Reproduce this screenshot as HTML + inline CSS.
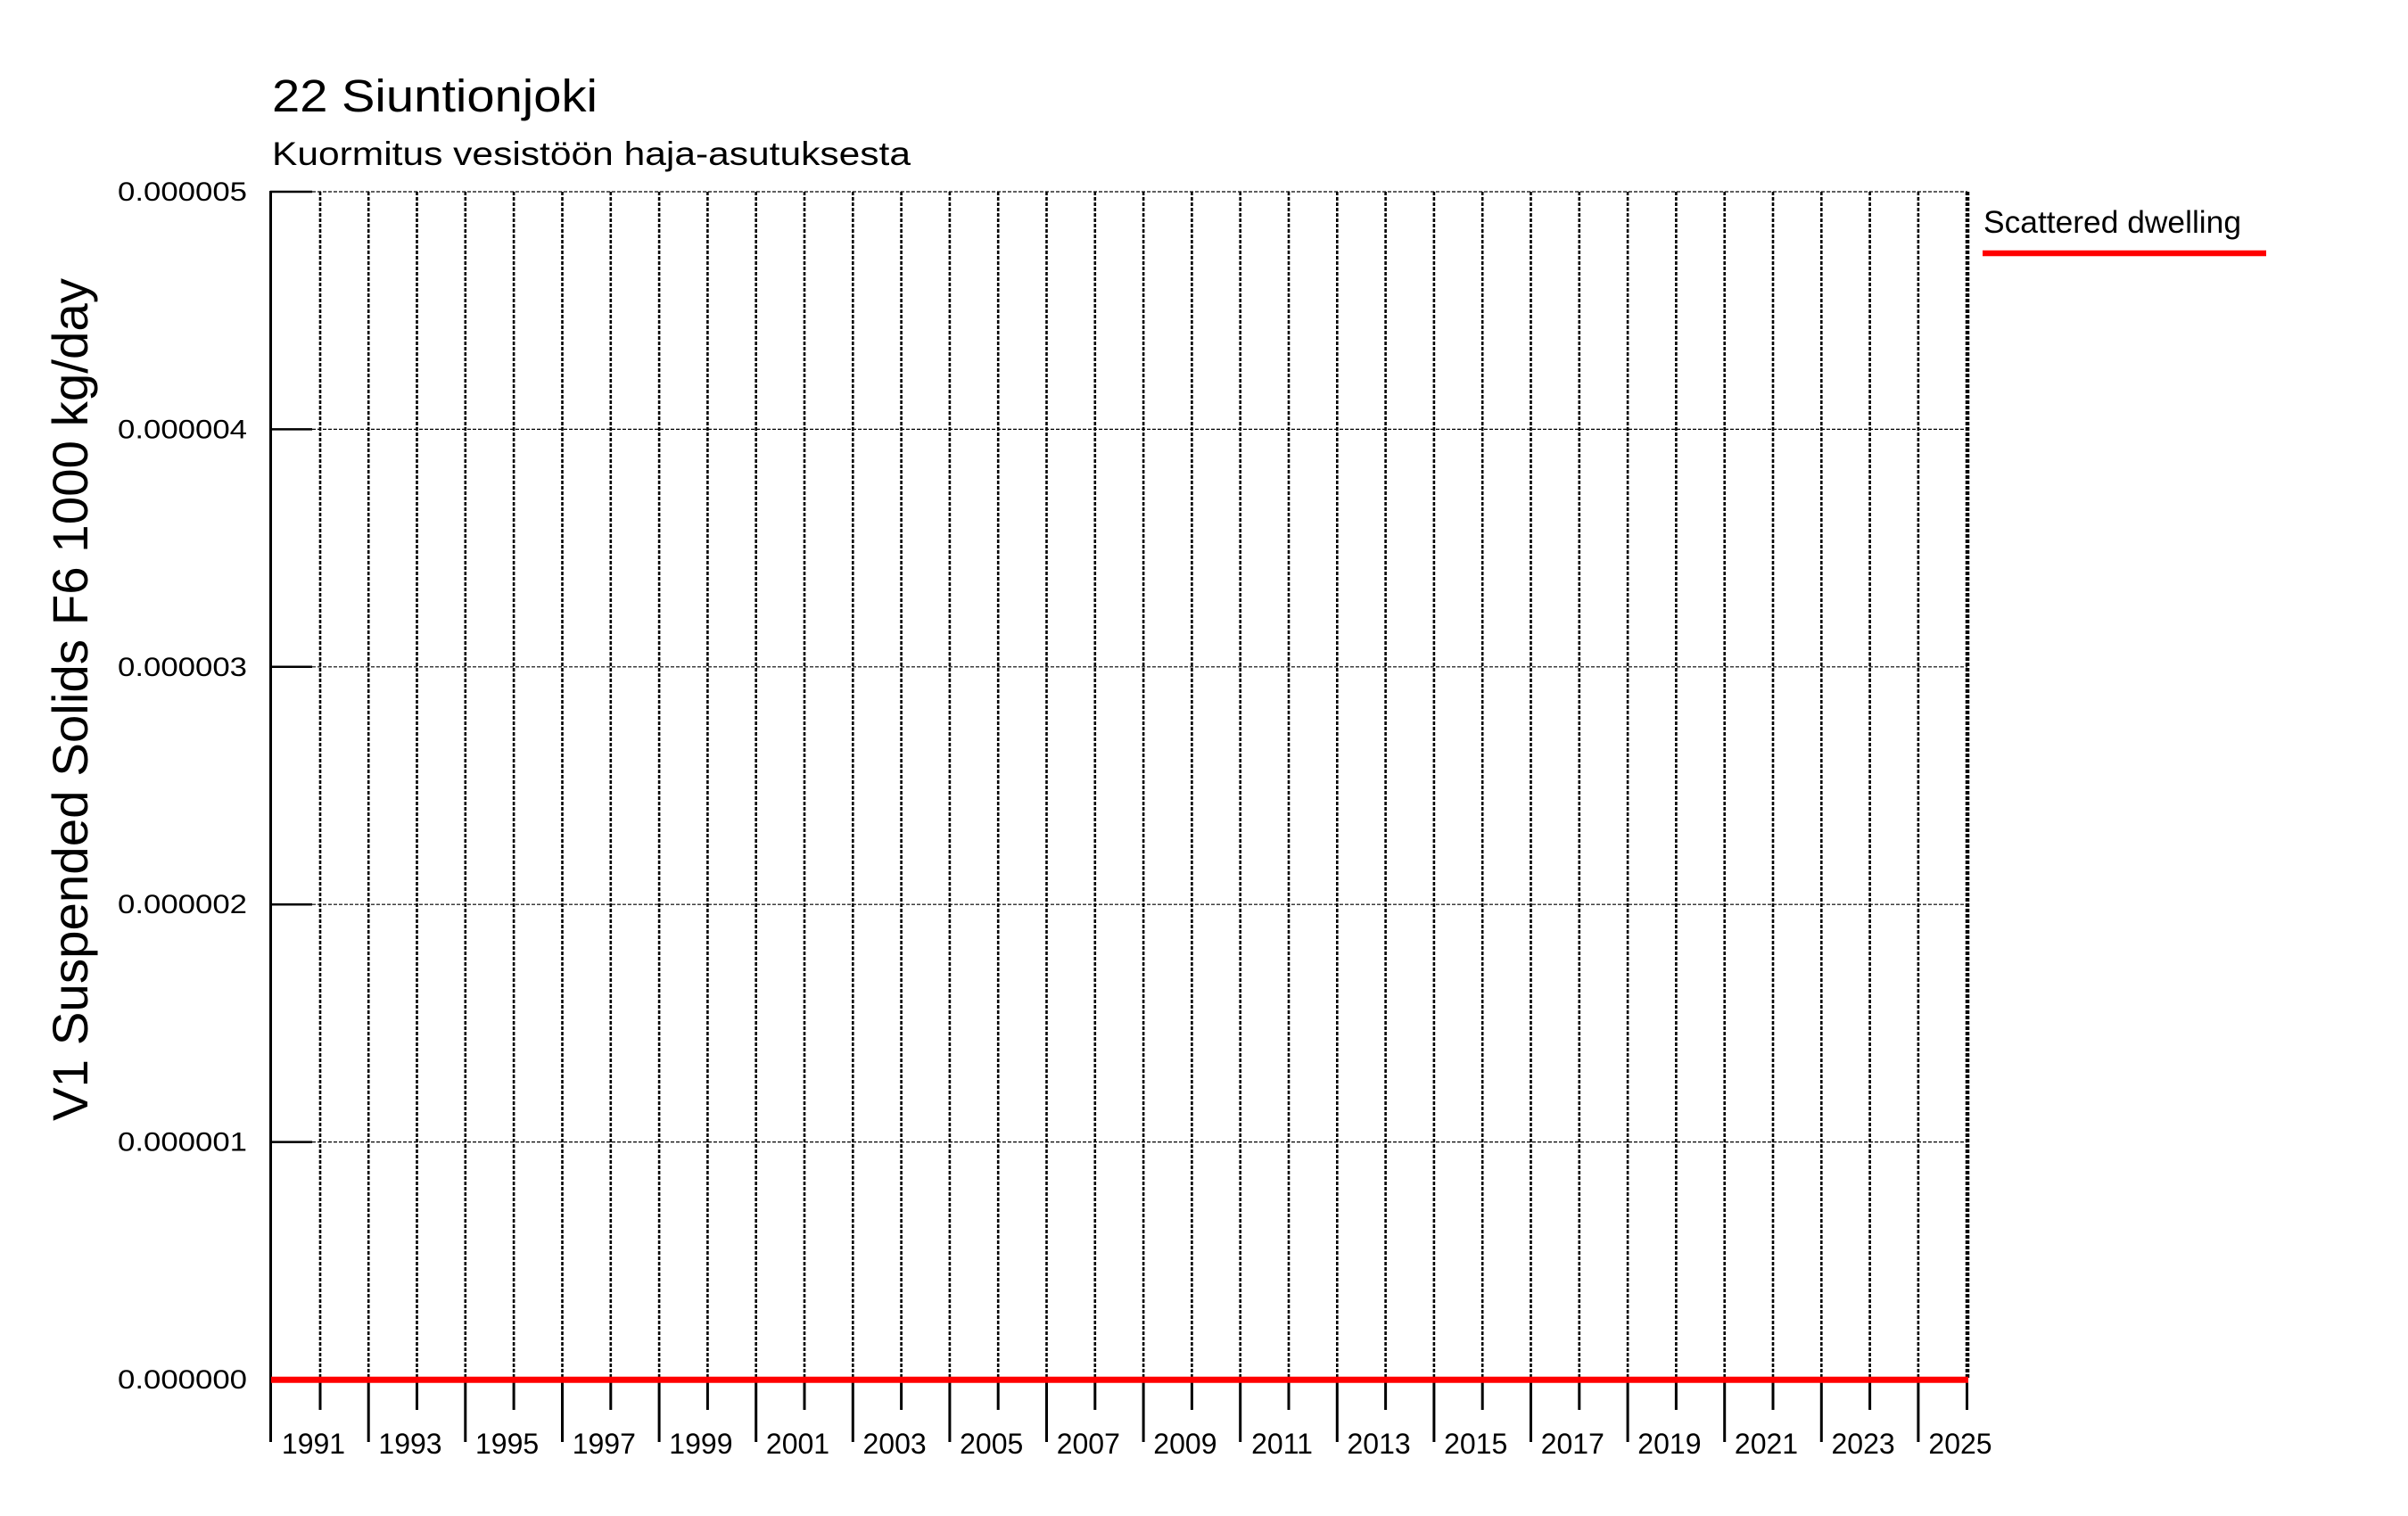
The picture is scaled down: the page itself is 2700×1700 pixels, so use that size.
<!DOCTYPE html>
<html>
<head>
<meta charset="utf-8">
<style>
html,body{margin:0;padding:0;background:#fff;}
svg{display:block;}
text{font-family:"Liberation Sans",Arial,sans-serif;fill:#000;}
</style>
</head>
<body>
<svg width="2700" height="1700" viewBox="0 0 2700 1700" xmlns="http://www.w3.org/2000/svg">
<rect width="2700" height="1700" fill="#fff"/>

<!-- titles -->
<text x="305" y="125" font-size="51" textLength="365" lengthAdjust="spacingAndGlyphs">22 Siuntionjoki</text>
<text x="305" y="185" font-size="37" textLength="716" lengthAdjust="spacingAndGlyphs">Kuormitus vesistöön haja-asutuksesta</text>

<!-- y axis label -->
<text transform="translate(98,784.5) rotate(-90)" text-anchor="middle" font-size="56" textLength="945" lengthAdjust="spacingAndGlyphs">V1 Suspended Solids F6 1000 kg/day</text>

<!-- horizontal grid -->
<g stroke="#000" stroke-width="1.2" stroke-dasharray="4,2" fill="none">
<line x1="350" y1="215" x2="2206" y2="215"/>
<line x1="350" y1="481.4" x2="2206" y2="481.4"/>
<line x1="350" y1="747.8" x2="2206" y2="747.8"/>
<line x1="350" y1="1014.2" x2="2206" y2="1014.2"/>
<line x1="350" y1="1280.6" x2="2206" y2="1280.6"/>
</g>

<!-- vertical grid -->
<g stroke="#000" stroke-width="2.6" stroke-dasharray="4,2" fill="none">
<line x1="359.0" y1="215" x2="359.0" y2="1547"/>
<line x1="413.2" y1="215" x2="413.2" y2="1547"/>
<line x1="467.5" y1="215" x2="467.5" y2="1547"/>
<line x1="521.8" y1="215" x2="521.8" y2="1547"/>
<line x1="576.1" y1="215" x2="576.1" y2="1547"/>
<line x1="630.5" y1="215" x2="630.5" y2="1547"/>
<line x1="684.8" y1="215" x2="684.8" y2="1547"/>
<line x1="739.1" y1="215" x2="739.1" y2="1547"/>
<line x1="793.4" y1="215" x2="793.4" y2="1547"/>
<line x1="847.7" y1="215" x2="847.7" y2="1547"/>
<line x1="902.0" y1="215" x2="902.0" y2="1547"/>
<line x1="956.3" y1="215" x2="956.3" y2="1547"/>
<line x1="1010.6" y1="215" x2="1010.6" y2="1547"/>
<line x1="1064.9" y1="215" x2="1064.9" y2="1547"/>
<line x1="1119.2" y1="215" x2="1119.2" y2="1547"/>
<line x1="1173.5" y1="215" x2="1173.5" y2="1547"/>
<line x1="1227.8" y1="215" x2="1227.8" y2="1547"/>
<line x1="1282.1" y1="215" x2="1282.1" y2="1547"/>
<line x1="1336.4" y1="215" x2="1336.4" y2="1547"/>
<line x1="1390.7" y1="215" x2="1390.7" y2="1547"/>
<line x1="1445.0" y1="215" x2="1445.0" y2="1547"/>
<line x1="1499.3" y1="215" x2="1499.3" y2="1547"/>
<line x1="1553.6" y1="215" x2="1553.6" y2="1547"/>
<line x1="1607.9" y1="215" x2="1607.9" y2="1547"/>
<line x1="1662.2" y1="215" x2="1662.2" y2="1547"/>
<line x1="1716.5" y1="215" x2="1716.5" y2="1547"/>
<line x1="1770.8" y1="215" x2="1770.8" y2="1547"/>
<line x1="1825.1" y1="215" x2="1825.1" y2="1547"/>
<line x1="1879.4" y1="215" x2="1879.4" y2="1547"/>
<line x1="1933.7" y1="215" x2="1933.7" y2="1547"/>
<line x1="1988.0" y1="215" x2="1988.0" y2="1547"/>
<line x1="2042.3" y1="215" x2="2042.3" y2="1547"/>
<line x1="2096.6" y1="215" x2="2096.6" y2="1547"/>
<line x1="2150.9" y1="215" x2="2150.9" y2="1547"/>
<line x1="2206.0" y1="215" x2="2206.0" y2="1547" stroke-width="4.5"/>
</g>

<!-- left axis -->
<line x1="303.5" y1="214" x2="303.5" y2="1617" stroke="#000" stroke-width="3"/>
<!-- y ticks -->
<g stroke="#000" stroke-width="2.5">
<line x1="303" y1="215" x2="350" y2="215"/>
<line x1="303" y1="481.4" x2="350" y2="481.4"/>
<line x1="303" y1="747.8" x2="350" y2="747.8"/>
<line x1="303" y1="1014.2" x2="350" y2="1014.2"/>
<line x1="303" y1="1280.6" x2="350" y2="1280.6"/>
<line x1="303" y1="1547" x2="350" y2="1547"/>
</g>
<!-- y tick labels -->
<g font-size="30" text-anchor="end">
<text x="277" y="225" textLength="145" lengthAdjust="spacingAndGlyphs">0.000005</text>
<text x="277" y="491.4" textLength="145" lengthAdjust="spacingAndGlyphs">0.000004</text>
<text x="277" y="757.8" textLength="145" lengthAdjust="spacingAndGlyphs">0.000003</text>
<text x="277" y="1024.2" textLength="145" lengthAdjust="spacingAndGlyphs">0.000002</text>
<text x="277" y="1290.6" textLength="145" lengthAdjust="spacingAndGlyphs">0.000001</text>
<text x="277" y="1557" textLength="145" lengthAdjust="spacingAndGlyphs">0.000000</text>
</g>

<!-- x ticks: long at even years, short at odd years -->
<g stroke="#000" stroke-width="3">
<line x1="413.2" y1="1547" x2="413.2" y2="1617"/>
<line x1="521.8" y1="1547" x2="521.8" y2="1617"/>
<line x1="630.5" y1="1547" x2="630.5" y2="1617"/>
<line x1="739.1" y1="1547" x2="739.1" y2="1617"/>
<line x1="847.7" y1="1547" x2="847.7" y2="1617"/>
<line x1="956.3" y1="1547" x2="956.3" y2="1617"/>
<line x1="1064.9" y1="1547" x2="1064.9" y2="1617"/>
<line x1="1173.5" y1="1547" x2="1173.5" y2="1617"/>
<line x1="1282.1" y1="1547" x2="1282.1" y2="1617"/>
<line x1="1390.7" y1="1547" x2="1390.7" y2="1617"/>
<line x1="1499.3" y1="1547" x2="1499.3" y2="1617"/>
<line x1="1607.9" y1="1547" x2="1607.9" y2="1617"/>
<line x1="1716.5" y1="1547" x2="1716.5" y2="1617"/>
<line x1="1825.1" y1="1547" x2="1825.1" y2="1617"/>
<line x1="1933.7" y1="1547" x2="1933.7" y2="1617"/>
<line x1="2042.3" y1="1547" x2="2042.3" y2="1617"/>
<line x1="2150.9" y1="1547" x2="2150.9" y2="1617"/>

<line x1="359.0" y1="1547" x2="359.0" y2="1581"/>
<line x1="467.5" y1="1547" x2="467.5" y2="1581"/>
<line x1="576.1" y1="1547" x2="576.1" y2="1581"/>
<line x1="684.8" y1="1547" x2="684.8" y2="1581"/>
<line x1="793.4" y1="1547" x2="793.4" y2="1581"/>
<line x1="902.0" y1="1547" x2="902.0" y2="1581"/>
<line x1="1010.6" y1="1547" x2="1010.6" y2="1581"/>
<line x1="1119.2" y1="1547" x2="1119.2" y2="1581"/>
<line x1="1227.8" y1="1547" x2="1227.8" y2="1581"/>
<line x1="1336.4" y1="1547" x2="1336.4" y2="1581"/>
<line x1="1445.0" y1="1547" x2="1445.0" y2="1581"/>
<line x1="1553.6" y1="1547" x2="1553.6" y2="1581"/>
<line x1="1662.2" y1="1547" x2="1662.2" y2="1581"/>
<line x1="1770.8" y1="1547" x2="1770.8" y2="1581"/>
<line x1="1879.4" y1="1547" x2="1879.4" y2="1581"/>
<line x1="1988.0" y1="1547" x2="1988.0" y2="1581"/>
<line x1="2096.6" y1="1547" x2="2096.6" y2="1581"/>
<line x1="2205.5" y1="1547" x2="2205.5" y2="1581"/>
</g>

<!-- x labels -->
<g font-size="32" text-anchor="middle">
<text x="351.5" y="1630">1991</text>
<text x="460.0" y="1630">1993</text>
<text x="568.6" y="1630">1995</text>
<text x="677.3" y="1630">1997</text>
<text x="785.9" y="1630">1999</text>
<text x="894.5" y="1630">2001</text>
<text x="1003.1" y="1630">2003</text>
<text x="1111.7" y="1630">2005</text>
<text x="1220.3" y="1630">2007</text>
<text x="1328.9" y="1630">2009</text>
<text x="1437.5" y="1630">2011</text>
<text x="1546.1" y="1630">2013</text>
<text x="1654.7" y="1630">2015</text>
<text x="1763.3" y="1630">2017</text>
<text x="1871.9" y="1630">2019</text>
<text x="1980.5" y="1630">2021</text>
<text x="2089.1" y="1630">2023</text>
<text x="2198.0" y="1630">2025</text>
</g>

<!-- data series -->
<line x1="304" y1="1547.3" x2="2207" y2="1547.3" stroke="#ff0000" stroke-width="7"/>

<!-- legend -->
<text x="2224" y="261" font-size="35" textLength="289" lengthAdjust="spacingAndGlyphs">Scattered dwelling</text>
<line x1="2223" y1="284" x2="2541" y2="284" stroke="#ff0000" stroke-width="6.5"/>
</svg>
</body>
</html>
